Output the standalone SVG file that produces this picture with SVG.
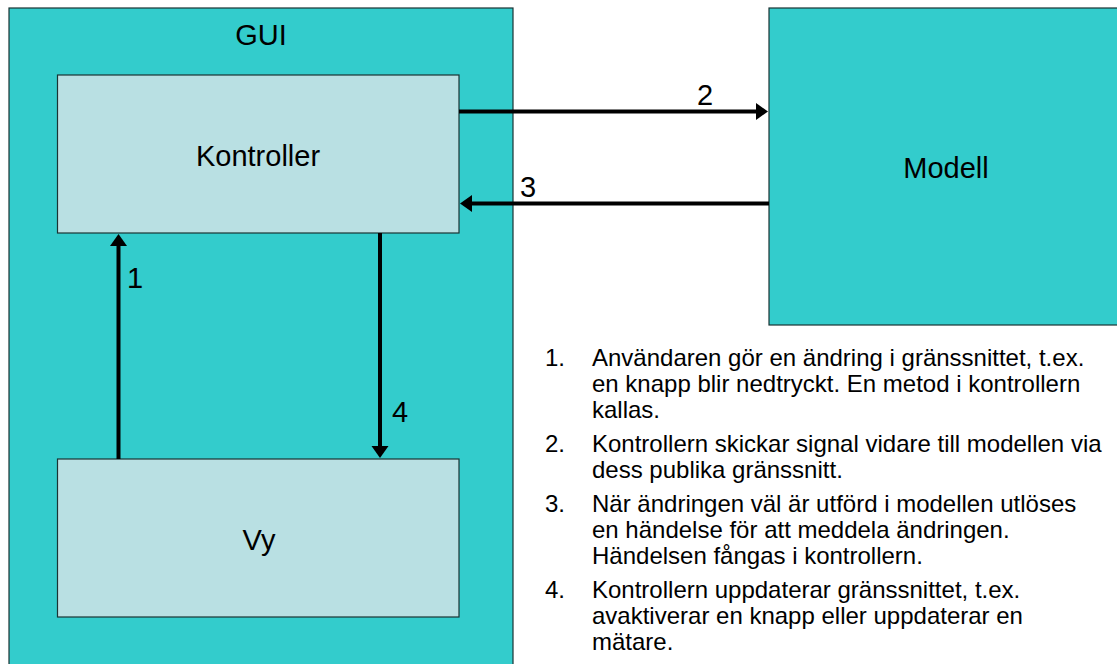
<svg xmlns="http://www.w3.org/2000/svg" width="1117" height="664" viewBox="0 0 1117 664">
<style>
.outer{fill:#33CCCC;stroke:#1a3333;stroke-width:1.2}
.inner{fill:#B9E0E3;stroke:#1a3333;stroke-width:1.2}
.lbl{font-family:"Liberation Sans",Arial,sans-serif;font-size:29px;fill:#000}
.mid{text-anchor:middle}
.conn{stroke:#000;stroke-width:4;fill:none;marker-end:url(#ah)}
.list{font-family:"Liberation Sans",Arial,sans-serif;font-size:24px;fill:#000}
</style>
<defs>
<marker id="ah" markerUnits="userSpaceOnUse" markerWidth="14" markerHeight="18" refX="1" refY="8.5" orient="auto" overflow="visible">
<path d="M0,0 L12,8.5 L0,17 z" fill="#000"/>
</marker>
</defs>
<rect width="1117" height="664" fill="#fff"/>
<g id="gui">
<rect class="outer" x="9" y="8" width="504" height="670"/>
<text class="lbl mid" x="261" y="45">GUI</text>
</g>
<g id="modell">
<rect class="outer" x="769" y="8" width="360" height="317"/>
<text class="lbl mid" x="946" y="178">Modell</text>
</g>
<g id="kontroller">
<rect class="inner" x="57.5" y="75" width="401.5" height="158"/>
<text class="lbl mid" x="258" y="166">Kontroller</text>
</g>
<g id="vy">
<rect class="inner" x="57.5" y="459" width="401.5" height="158"/>
<text class="lbl mid" x="259" y="550">Vy</text>
</g>
<g id="connectors">
<line class="conn" x1="459" y1="111.5" x2="757" y2="111.5"/>
<line class="conn" x1="769" y1="203.5" x2="471" y2="203.5"/>
<line class="conn" x1="118.5" y1="459" x2="118.5" y2="245"/>
<line class="conn" x1="380" y1="233" x2="380" y2="447"/>
<text class="lbl" x="697" y="105">2</text>
<text class="lbl" x="520" y="197">3</text>
<text class="lbl" x="127" y="288">1</text>
<text class="lbl" x="392" y="422">4</text>
</g>
<g id="notes" class="list">
<text x="545" y="366">1.</text>
<text x="592" y="366">Användaren gör en ändring i gränssnittet, t.ex.</text>
<text x="592" y="392">en knapp blir nedtryckt. En metod i kontrollern</text>
<text x="592" y="418">kallas.</text>
<text x="545" y="452">2.</text>
<text x="592" y="452">Kontrollern skickar signal vidare till modellen via</text>
<text x="592" y="478">dess publika gränssnitt.</text>
<text x="545" y="512">3.</text>
<text x="592" y="512">När ändringen väl är utförd i modellen utlöses</text>
<text x="592" y="538">en händelse för att meddela ändringen.</text>
<text x="592" y="564">Händelsen fångas i kontrollern.</text>
<text x="545" y="598">4.</text>
<text x="592" y="598">Kontrollern uppdaterar gränssnittet, t.ex.</text>
<text x="592" y="624">avaktiverar en knapp eller uppdaterar en</text>
<text x="592" y="650">mätare.</text>
</g>
</svg>
